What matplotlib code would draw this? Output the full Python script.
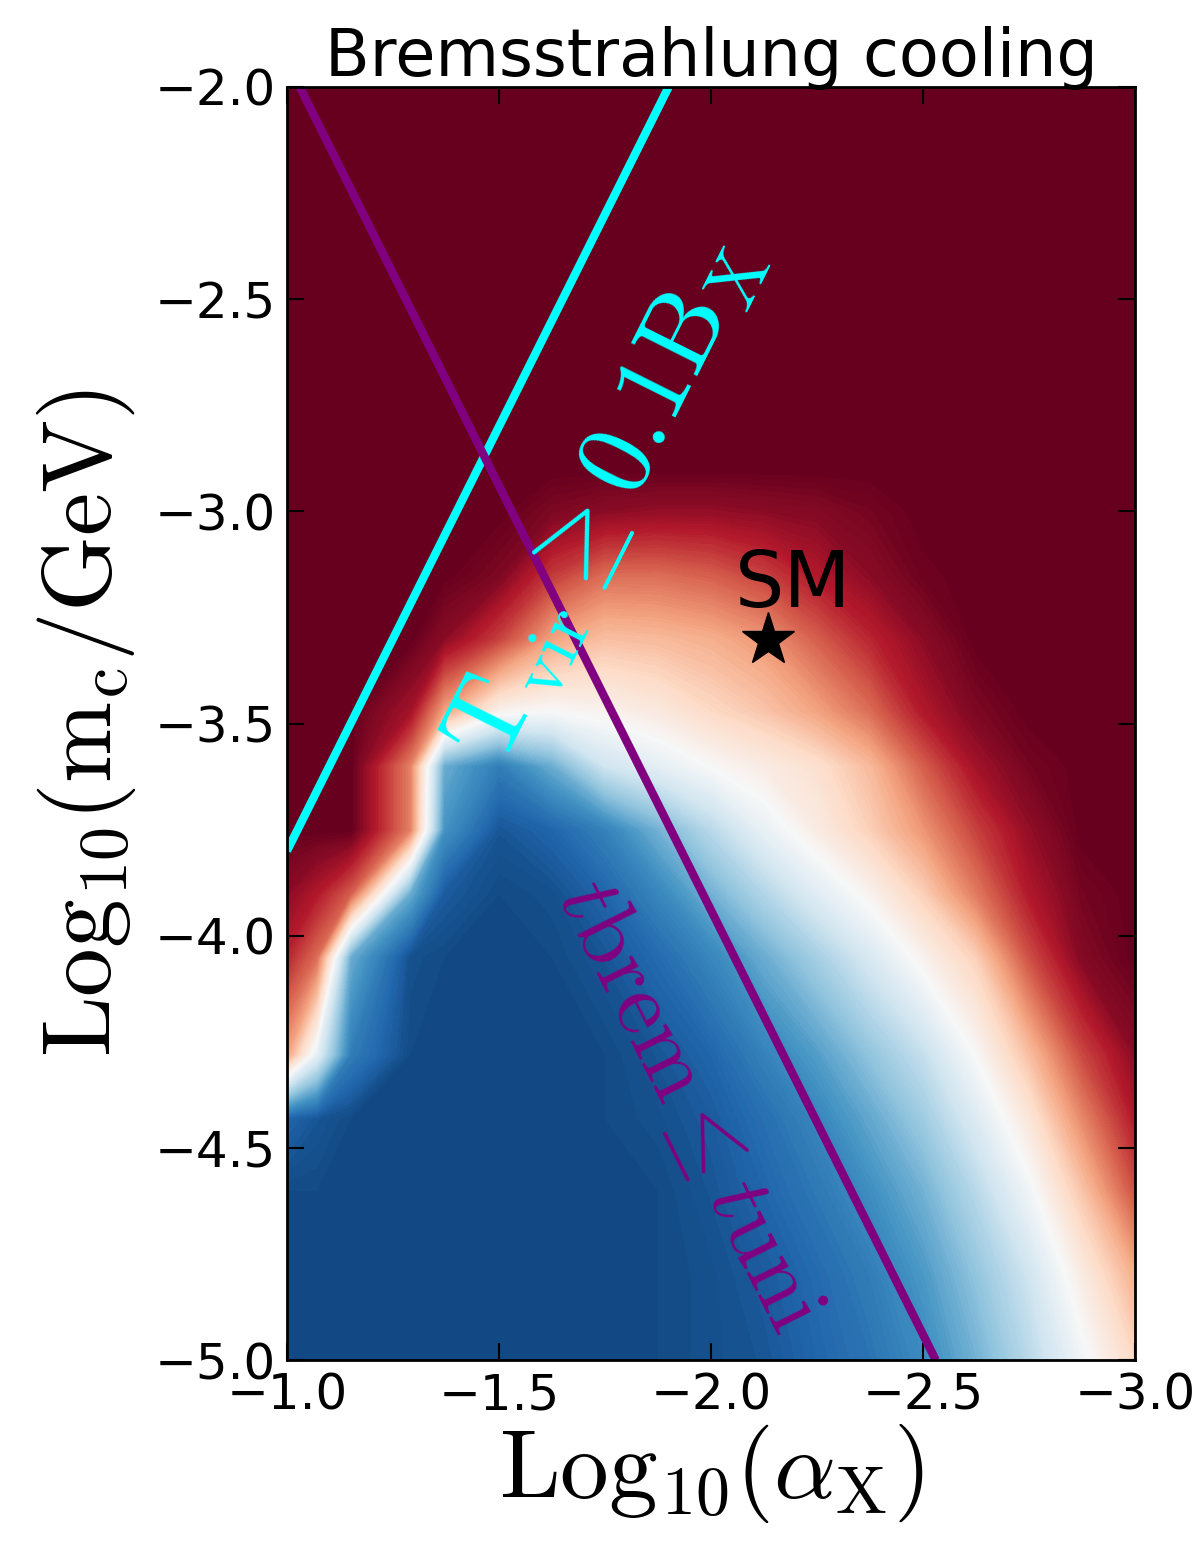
import matplotlib
matplotlib.use('Agg')
import matplotlib.pyplot as plt
import numpy as np

plt.rcParams['mathtext.fontset'] = 'cm'

# sample points of the map: log10(alpha_X) columns, log10(m_c/GeV) rows
alpha_x = [-1.0, -1.07, -1.15, -1.29, -1.37, -1.5, -1.625, -1.75, -1.875,
           -2.0, -2.125, -2.25, -2.375, -2.5, -2.625, -2.75, -2.875, -3.0]
m_c = [-2.0, -2.9, -3.0, -3.15, -3.3, -3.47, -3.6, -3.75, -3.9, -4.05,
       -4.28, -4.43, -4.6, -4.8, -5.0]

# colour value (0 = dark blue, 1 = dark red), one row per m_c value
cooling = [
    [1.00, 1.00, 1.00, 1.00, 1.00, 1.00, 1.00, 1.00, 1.00, 1.00, 1.00, 1.00, 1.00, 1.00, 1.00, 1.00, 1.00, 1.00],
    [1.00, 1.00, 1.00, 1.00, 1.00, 1.00, 1.00, 1.00, 1.00, 1.00, 1.00, 1.00, 1.00, 1.00, 1.00, 1.00, 1.00, 1.00],
    [1.00, 1.00, 1.00, 1.00, 1.00, 1.00, 0.97, 0.95, 0.94, 0.94, 0.95, 0.96, 0.98, 1.00, 1.00, 1.00, 1.00, 1.00],
    [1.00, 1.00, 1.00, 1.00, 1.00, 0.97, 0.85, 0.78, 0.78, 0.80, 0.84, 0.90, 0.95, 0.99, 1.00, 1.00, 1.00, 1.00],
    [1.00, 1.00, 1.00, 1.00, 0.95, 0.84, 0.70, 0.65, 0.66, 0.68, 0.72, 0.80, 0.88, 0.95, 1.00, 1.00, 1.00, 1.00],
    [1.00, 1.00, 1.00, 0.92, 0.70, 0.52, 0.50, 0.52, 0.55, 0.60, 0.64, 0.70, 0.78, 0.90, 0.97, 1.00, 1.00, 1.00],
    [1.00, 1.00, 1.00, 0.75, 0.25, 0.15, 0.25, 0.40, 0.45, 0.50, 0.54, 0.58, 0.66, 0.80, 0.92, 0.98, 1.00, 1.00],
    [1.00, 1.00, 1.00, 0.75, 0.20, 0.07, 0.10, 0.16, 0.26, 0.36, 0.46, 0.54, 0.62, 0.72, 0.84, 0.94, 1.00, 1.00],
    [0.95, 0.90, 0.80, 0.25, 0.08, 0.05, 0.06, 0.10, 0.17, 0.26, 0.35, 0.44, 0.52, 0.62, 0.76, 0.90, 0.98, 1.00],
    [0.88, 0.78, 0.25, 0.06, 0.05, 0.05, 0.05, 0.07, 0.11, 0.17, 0.25, 0.33, 0.42, 0.52, 0.62, 0.82, 0.96, 1.00],
    [0.70, 0.45, 0.15, 0.05, 0.05, 0.05, 0.05, 0.05, 0.07, 0.10, 0.16, 0.22, 0.30, 0.38, 0.50, 0.65, 0.83, 0.95],
    [0.10, 0.07, 0.05, 0.05, 0.05, 0.05, 0.05, 0.05, 0.06, 0.08, 0.12, 0.17, 0.24, 0.32, 0.43, 0.56, 0.74, 0.90],
    [0.05, 0.05, 0.05, 0.05, 0.05, 0.05, 0.05, 0.05, 0.05, 0.07, 0.10, 0.14, 0.19, 0.26, 0.36, 0.48, 0.64, 0.82],
    [0.05, 0.05, 0.05, 0.05, 0.05, 0.05, 0.05, 0.05, 0.05, 0.06, 0.08, 0.11, 0.15, 0.21, 0.30, 0.40, 0.54, 0.68],
    [0.05, 0.05, 0.05, 0.05, 0.05, 0.05, 0.05, 0.05, 0.05, 0.06, 0.07, 0.10, 0.13, 0.18, 0.26, 0.36, 0.48, 0.60],
]

# constraint lines
tvir_x = [-1.0, -1.9]
tvir_y = [-3.8, -2.0]
tbrem_x = [-1.03, -2.53]
tbrem_y = [-2.0, -5.0]

# Standard Model point
sm_x, sm_y = -2.134, -3.303

fig = plt.figure(figsize=(11.99, 15.45), dpi=100)
ax = fig.add_axes([0.2394, 0.1197, 0.7072, 0.824])

ax.contourf(alpha_x, m_c, np.array(cooling), levels=np.linspace(0, 1.0001, 161),
            cmap='RdBu_r', antialiased=False)

ax.plot(tvir_x, tvir_y, color='cyan', lw=6, solid_capstyle='butt')
ax.plot(tbrem_x, tbrem_y, color='purple', lw=6, solid_capstyle='butt')
ax.plot(sm_x, sm_y, marker='*', color='black', ms=40, ls='none')
ax.text(sm_x - 0.06, sm_y + 0.13, 'SM', fontsize=56, ha='center', va='center')

ax.text(-1.745, -2.97, r'$\mathrm{T_{vir}\geq 0.1B_X}$', color='cyan', fontsize=77,
        rotation=63.4, ha='center', va='center', rotation_mode='anchor')
ax.text(-1.95, -4.40, r'$t\mathrm{brem}\leq t\mathrm{uni}$', color='purple', fontsize=65,
        rotation=-63.4, ha='center', va='center', rotation_mode='anchor')

ax.set_xlim(-1.0, -3.0)
ax.set_ylim(-5.0, -2.0)
ax.set_xticks([-1.0, -1.5, -2.0, -2.5, -3.0])
ax.set_yticks([-2.0, -2.5, -3.0, -3.5, -4.0, -4.5, -5.0])
ax.tick_params(direction='in', top=True, right=True, length=12, width=1.5,
               labelsize=36, pad=8)
for s in ax.spines.values():
    s.set_linewidth(2)

ax.set_xlabel(r'$\mathrm{Log_{10}(\alpha_X)}$', fontsize=70, labelpad=2)
ax.set_ylabel(r'$\mathrm{Log_{10}(m_c/GeV)}$', fontsize=70, labelpad=12)
ax.set_title('Bremsstrahlung cooling', fontsize=47, pad=8)

fig.savefig('out.png', dpi=100)
